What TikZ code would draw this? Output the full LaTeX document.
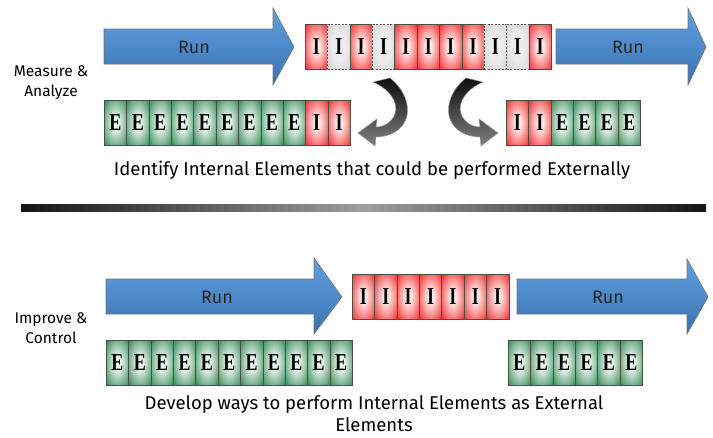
\documentclass[tikz,border=0pt]{standalone}
\usepackage{fontspec}
\setmainfont{Fira Sans}
\newfontfamily\cellserif{Liberation Serif}
\definecolor{rdark}{RGB}{242,40,40}
\definecolor{rlight}{RGB}{255,230,230}
\definecolor{gdark}{RGB}{50,135,85}
\definecolor{glight}{RGB}{232,244,236}
\definecolor{ydark}{RGB}{200,200,200}
\definecolor{ylight}{RGB}{236,236,236}
\definecolor{bluetop}{RGB}{98,160,222}
\definecolor{bluebot}{RGB}{58,114,178}
\pgfdeclareradialshading{redcell}{\pgfpoint{0bp}{0bp}}{color(0bp)=(rlight); color(7bp)=(rlight); color(36bp)=(rdark); color(50bp)=(rdark)}
\pgfdeclareradialshading{greencell}{\pgfpoint{0bp}{0bp}}{color(0bp)=(glight); color(7bp)=(glight); color(36bp)=(gdark); color(50bp)=(gdark)}
\pgfdeclareradialshading{graycell}{\pgfpoint{0bp}{0bp}}{color(0bp)=(ylight); color(15bp)=(ylight); color(45bp)=(ydark); color(50bp)=(ydark)}
\newcommand\celltxt[1]{\scalebox{1}[1.35]{\cellserif\bfseries #1}}
\tikzset{
  cellbase/.style={rectangle, minimum width=22.36pt, minimum height=45pt, inner sep=0pt,
    anchor=north west, font=\fontsize{18}{18}\selectfont},
  cr/.style={cellbase, shading=redcell, draw=black!70, line width=0.6pt, node contents={\celltxt{I}}},
  cg/.style={cellbase, shading=graycell, draw=black!65, line width=0.6pt, dash pattern=on 2pt off 1.5pt, node contents={\celltxt{I}}},
  ce/.style={cellbase, shading=greencell, draw=black!70, line width=0.6pt, node contents={\celltxt{E}}},
  ctype/.code={\edef\tmpct{#1}\expandafter\pgfkeysalso\expandafter{\tmpct}},
  runarrow/.style={top color=bluetop, bottom color=bluebot, draw=black!55, line width=0.6pt},
  curvearrow/.style={top color=black!95, bottom color=black!50, draw=black!40, line width=0.5pt},
  runlabel/.style={font=\fontsize{18}{18}\selectfont, text=black!85},
  sidelabel/.style={font=\fontsize{15.5}{20}\selectfont, align=center},
  caption/.style={font=\fontsize{18.5}{22}\selectfont, align=center, inner sep=0pt},
}
\newcommand\cellrow[4]{%
  \foreach \t [count=\i] in {#4} {
    \node (#1\i) at ({#2+(\i-1)*22.36},#3) [ctype=\t];
  }%
}
\newcommand\hookpath{(390,78) .. controls (408,92) and (414,116) .. (399,129)
  .. controls (392,135) and (383,137) .. (376,137) -- (375,146) -- (358,133) -- (377,119) -- (376,127)
  .. controls (384,127) and (392,122) .. (395,114) .. controls (399,102) and (389,89) .. (373,82) -- cycle}
\begin{document}
\begin{tikzpicture}[x=1pt,y=-1pt]
\useasboundingbox (0,0) rectangle (713,437);
% ---- top section ----
\path[runarrow] (104,29) -- (273,29) -- (273,8) -- (294,47) -- (273,85) -- (273,64) -- (104,64) -- cycle;
\node[runlabel] (run1) at (194,47) {Run};
\path[runarrow] (556,29) -- (688,29) -- (688,8) -- (706,47) -- (688,85) -- (688,64) -- (556,64) -- cycle;
\node[runlabel] (run2) at (628,47) {Run};
\cellrow{t}{305}{24}{cr,cg,cr,cg,cr,cr,cr,cr,cg,cg,cr}
\cellrow{a}{104}{100}{ce,ce,ce,ce,ce,ce,ce,ce,ce,cr,cr}
\cellrow{b}{506}{100}{cr,cr,ce,ce,ce,ce}
% curved arrows
\path[curvearrow] \hookpath;
\begin{scope}[shift={(856,0)}, xscale=-1]
\path[curvearrow] \hookpath;
\end{scope}
\node[sidelabel] (lab1) at (51,83) {Measure \&\\Analyze};
\node[caption] (cap1) at (372,170) {Identify Internal Elements that could be performed Externally};
% separator
\shade[left color=black!92, right color=black!92, middle color=black!38] (21,204) rectangle (706,211);
% ---- bottom section ----
\path[runarrow] (106,279) -- (314,279) -- (314,258) -- (342,297) -- (314,334) -- (314,314) -- (106,314) -- cycle;
\node[runlabel] (run3) at (217,297) {Run};
\path[runarrow] (517,279) -- (687,279) -- (687,259) -- (708,297) -- (687,334) -- (687,314) -- (517,314) -- cycle;
\node[runlabel] (run4) at (608,297) {Run};
\cellrow{c}{352}{274}{cr,cr,cr,cr,cr,cr,cr}
\cellrow{d}{106}{340}{ce,ce,ce,ce,ce,ce,ce,ce,ce,ce,ce}
\cellrow{f}{508}{340}{ce,ce,ce,ce,ce,ce}
\node[sidelabel] (lab2) at (51,328) {Improve \&\\Control};
\node[caption] (cap2) at (374,414) {Develop ways to perform Internal Elements as External\\Elements};
\end{tikzpicture}
\end{document}
